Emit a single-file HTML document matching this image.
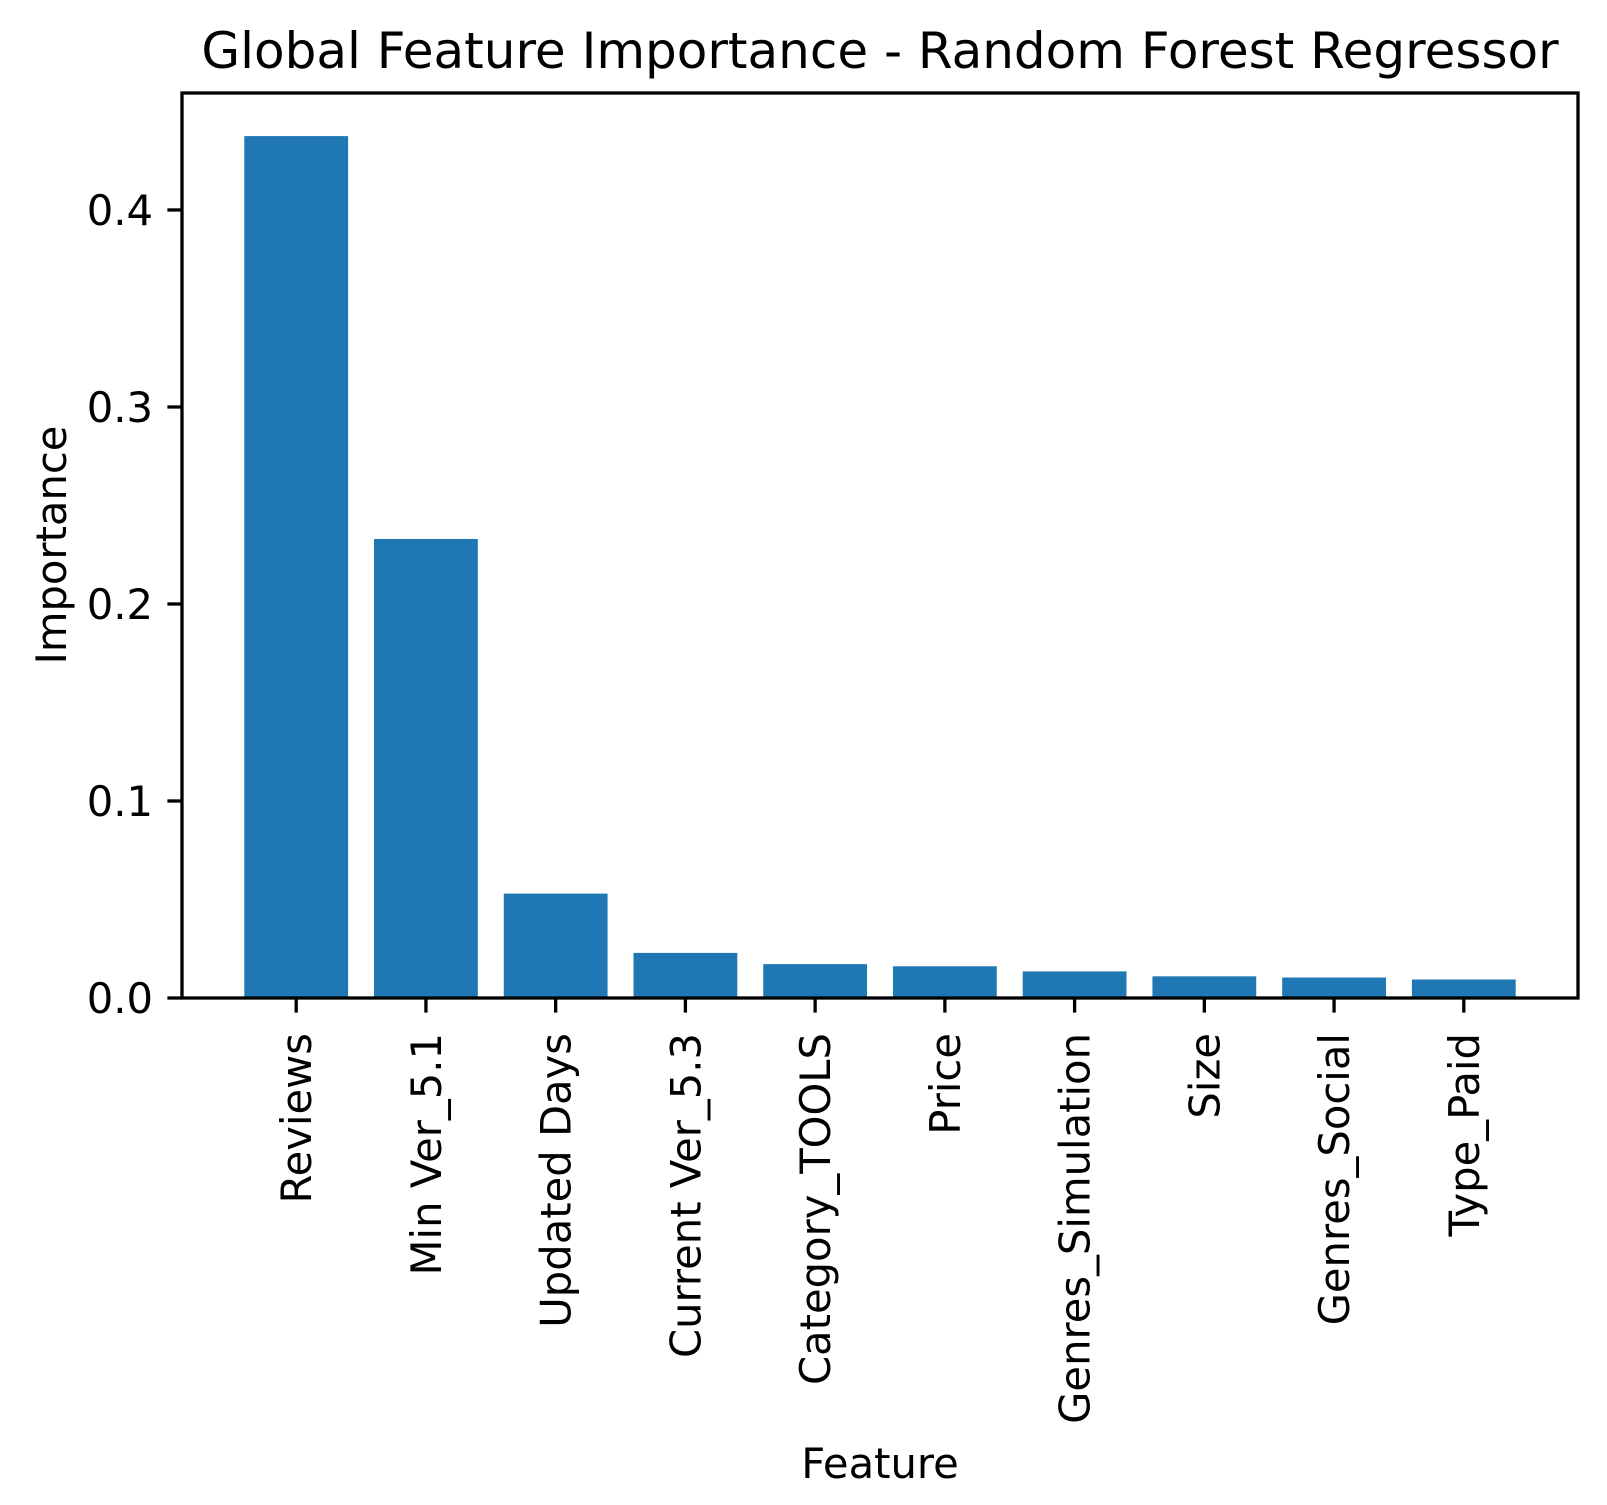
<!DOCTYPE html>
<html><head><meta charset="utf-8"><style>
body{margin:0;background:#fff;}
svg{display:block;font-family:"DejaVu Sans","Liberation Sans",sans-serif;}
</style></head><body>
<svg id="chart" width="1607" height="1505" viewBox="0 0 1607 1505" xmlns="http://www.w3.org/2000/svg">
<rect width="1607" height="1505" fill="#fff"/>
<g id="bars"></g>
<g id="axes"></g>
<text x="880" y="68" font-size="50" text-anchor="middle">Global Feature Importance - Random Forest Regressor</text>
<text x="880" y="1478" font-size="41.7" text-anchor="middle">Feature</text>
<text transform="translate(66,545) rotate(-90)" font-size="41.7" text-anchor="middle">Importance</text>
</svg>
<script>
const categories = ["Reviews","Min Ver_5.1","Updated Days","Current Ver_5.3","Category_TOOLS","Price","Genres_Simulation","Size","Genres_Social","Type_Paid"];
const importances = [0.4375,0.233,0.053,0.0229,0.0172,0.0161,0.0135,0.011,0.0104,0.0094];
const yTicks = [0.0,0.1,0.2,0.3,0.4];
const yTickLabels = ["0.0","0.1","0.2","0.3","0.4"];

const NS="http://www.w3.org/2000/svg";
const L=182,R=1578,T=93,B=998;
const n=categories.length;
const xmin=-0.4-0.049*(n-0.2), xmax=(n-1)+0.4+0.049*(n-0.2);
const ymax=Math.max(...importances)*1.05;
const xs=v=>L+(v-xmin)/(xmax-xmin)*(R-L);
const ys=v=>B-v/ymax*(B-T);
function mk(tag,attrs,parent){const e=document.createElementNS(NS,tag);for(const k in attrs)e.setAttribute(k,attrs[k]);parent.appendChild(e);return e;}
const bars=document.getElementById('bars'), axes=document.getElementById('axes');
categories.forEach((c,i)=>{
  const x0=xs(i-0.4), x1=xs(i+0.4), y=ys(importances[i]);
  const r=mk('rect',{x:x0,y:y,width:x1-x0,height:B-y,fill:'#1f77b4'},bars);
  
  
  const cx=xs(i);
  const t=mk('line',{x1:cx,x2:cx,y1:B,y2:B+14.6,stroke:'#000','stroke-width':3.3},axes);
  
  
  const lb=mk('text',{transform:`translate(${cx+15},1033) rotate(-90)`,'font-size':41.7,'text-anchor':'end'},axes);
  lb.textContent=c;
  
  
});
yTicks.forEach((v,i)=>{
  const y=ys(v);
  const t=mk('line',{x1:L-14.6,x2:L,y1:y,y2:y,stroke:'#000','stroke-width':3.3},axes);
  
  
  const lb=mk('text',{x:L-29,y:y+15,'font-size':41.7,'text-anchor':'end'},axes);
  lb.textContent=yTickLabels[i];
  
  
});
const fr=mk('rect',{x:L,y:T,width:R-L,height:B-T,fill:'none',stroke:'#000','stroke-width':3.3},axes);


</script>
</body></html>
